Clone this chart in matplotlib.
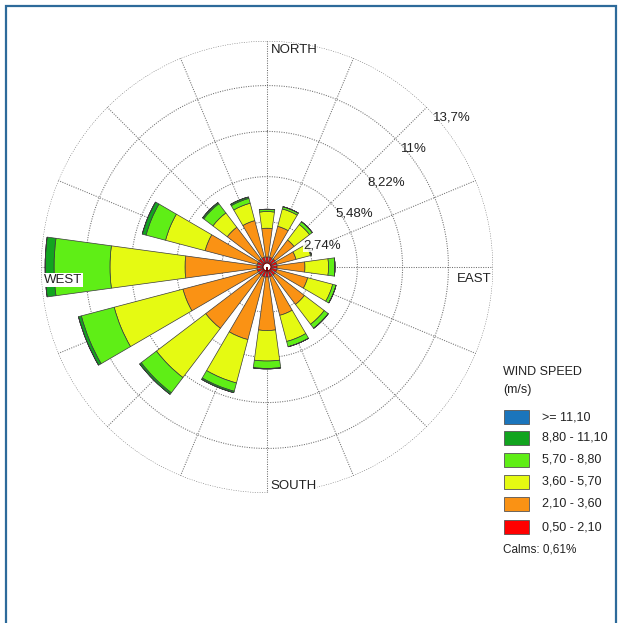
import numpy as np
import matplotlib
matplotlib.use("Agg")
import matplotlib.pyplot as plt
from matplotlib.patches import Rectangle

# frequencies (%) per direction, per wind speed class
directions = ["N", "NNE", "NE", "ENE", "E", "ESE", "SE", "SSE",
              "S", "SSW", "SW", "WSW", "W", "WNW", "NW", "NNW"]
spd_050_210 = [0.61, 0.61, 0.61, 0.61, 0.61, 0.61, 0.61, 0.61,
               0.61, 0.61, 0.61, 0.61, 0.61, 0.61, 0.61, 0.61]
spd_210_360 = [1.74, 1.94, 1.45, 1.21, 1.69, 1.94, 2.24, 2.42,
               3.24, 3.94, 4.06, 4.66, 4.36, 3.27, 2.42, 2.30]
spd_360_570 = [1.01, 1.09, 1.18, 0.91, 1.43, 1.57, 1.51, 1.64,
               1.85, 2.72, 3.75, 4.31, 4.55, 2.48, 1.09, 1.09]
spd_570_880 = [0.14, 0.14, 0.21, 0.06, 0.39, 0.21, 0.31, 0.33,
               0.45, 0.52, 1.16, 2.06, 3.39, 1.22, 0.70, 0.30]
spd_880_1110 = [0.0, 0.0, 0.0, 0.0, 0.0, 0.0, 0.0, 0.0,
                0.03, 0.09, 0.12, 0.18, 0.54, 0.24, 0.09, 0.09]
spd_1110 = [0.0] * 16

classes = [spd_050_210, spd_210_360, spd_360_570, spd_570_880, spd_880_1110, spd_1110]
class_labels = ["0,50 - 2,10", "2,10 - 3,60", "3,60 - 5,70",
                "5,70 - 8,80", "8,80 - 11,10", ">= 11,10"]
colors = ["#ff0000", "#fa9214", "#e5fa12", "#5fee16", "#12a41f", "#1b75bc"]

rings = [2.74, 5.48, 8.22, 11.0, 13.7]
ring_labels = ["2,74%", "5,48%", "8,22%", "11%", "13,7%"]
calms = "0,61%"

W, H = 619, 623
plt.rcParams['font.family'] = ['Liberation Sans', 'DejaVu Sans']

fig = plt.figure(figsize=(W / 100, H / 100), dpi=100)
fig.patch.set_facecolor("white")

def px(x, y):
    return x / W, 1 - y / H

# polar axes centred at (267, 267) px with radius 226 px
cx, cy, R = 267, 267, 226
ax = fig.add_axes([(cx - R) / W, 1 - (cy + R) / H, 2 * R / W, 2 * R / H],
                  projection="polar")
ax.set_theta_zero_location("N")
ax.set_theta_direction(-1)
ax.set_ylim(0, rings[-1])
ax.grid(False)
ax.set_xticks([])
ax.set_yticks([])
ax.spines["polar"].set_visible(False)
ax.set_facecolor("none")

# dotted grid
grid_kw = dict(linestyle=(0, (1, 1.3)), color="#6e6e6e", lw=0.75, zorder=1)
tt = np.linspace(0, 2 * np.pi, 400)
for r in rings:
    ax.plot(tt, np.full_like(tt, r), **grid_kw)
for k in range(16):
    t = np.deg2rad(k * 22.5)
    ax.plot([t, t], [0, rings[-1]], **grid_kw)

theta = np.deg2rad(np.arange(16) * 22.5)
width = np.deg2rad(15.5)
bottom = np.zeros(16)
for vals, c in zip(classes, colors):
    vals = np.array(vals)
    ax.bar(theta, vals, width=width, bottom=bottom, color=c,
           edgecolor="#3a3a3a", linewidth=0.5, zorder=3)
    bottom = bottom + vals

# calm circle
ax.bar(0, 0.24, width=2 * np.pi, bottom=0, color="white",
       edgecolor="#7a0000", linewidth=0.8, zorder=5)

# direction labels
fs = 9.5
fig.text(*px(271, 50), "NORTH", fontsize=fs, va="center", ha="left", color="#222222")
fig.text(*px(270, 486), "SOUTH", fontsize=fs, va="center", ha="left", color="#222222",
         bbox=dict(facecolor="white", edgecolor="none", pad=0.5))
fig.text(*px(44, 280), "WEST", fontsize=fs, va="center", ha="left", color="#222222",
         bbox=dict(facecolor="white", edgecolor="none", pad=0.5), zorder=10)
fig.text(*px(491, 279), "EAST", fontsize=fs, va="center", ha="right", color="#222222",
         bbox=dict(facecolor="white", edgecolor="none", pad=0.5))

# ring labels
ring_pos = [(322, 246), (354, 214), (386, 182), (414, 149), (452, 117)]
for lab, (x, y) in zip(ring_labels, ring_pos):
    kw = {}
    if lab == "2,74%":
        kw["bbox"] = dict(facecolor="white", edgecolor="none", pad=0.3, alpha=0.85)
    fig.text(*px(x, y), lab, fontsize=9.5, ha="center", va="center",
             color="#222222", zorder=10, **kw)

# legend
fig.text(*px(503, 372), "WIND SPEED", fontsize=9, ha="left", va="center", color="#222222")
fig.text(*px(503, 390), "(m/s)", fontsize=9, ha="left", va="center", color="#222222")
box_y = [417, 438, 460, 482, 504, 527]
for y, lab, c in zip(box_y, class_labels[::-1], colors[::-1]):
    fig.patches.append(Rectangle(px(504, y + 7), 25 / W, 14 / H, facecolor=c,
                                 edgecolor="#555555", linewidth=0.6,
                                 transform=fig.transFigure))
    fig.text(*px(542, y), lab, fontsize=9, ha="left", va="center", color="#222222")
fig.text(*px(503, 550), "Calms: " + calms, fontsize=8.5, ha="left", va="center",
         color="#222222")

# frame
fig.patches.append(Rectangle(px(6, 640), 610 / W, 634 / H, facecolor="none",
                             edgecolor="#2d6a9a", linewidth=1.6,
                             transform=fig.transFigure))

fig.savefig("out.png", dpi=100, facecolor="white")
